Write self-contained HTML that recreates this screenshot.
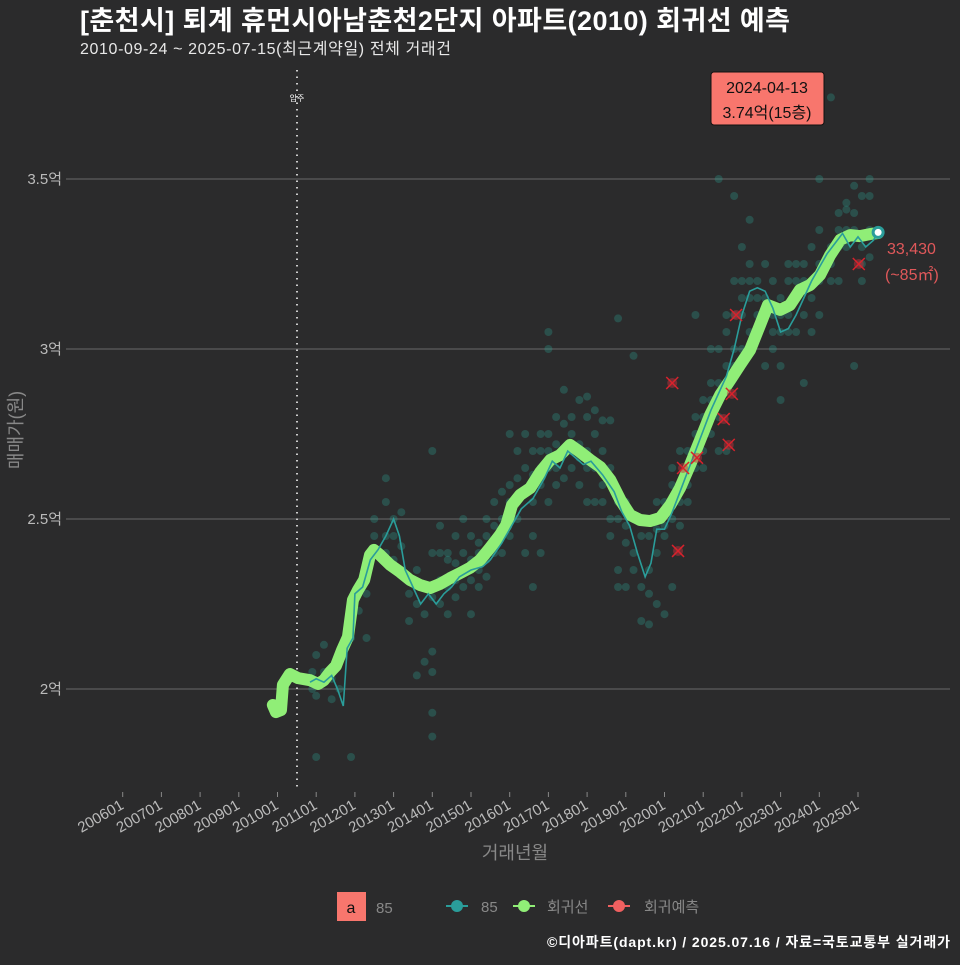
<!DOCTYPE html>
<html><head><meta charset="utf-8">
<style>
html,body{margin:0;padding:0;background:#2b2b2c;}
body{width:960px;height:960px;overflow:hidden;font-family:"Liberation Sans","Noto Sans CJK KR",sans-serif;}
svg text{font-family:"Liberation Sans","Noto Sans CJK KR",sans-serif;}
</style></head>
<body>
<svg id="chart" width="960" height="960" xmlns="http://www.w3.org/2000/svg">
<rect x="0" y="0" width="960" height="960" fill="#2b2b2c"/>
<text x="80" y="30" fill="#ffffff" font-size="27" font-weight="bold" textLength="710">[춘천시] 퇴계 휴먼시아남춘천2단지 아파트(2010) 회귀선 예측</text>
<text x="80" y="54" fill="#e8e8e8" font-size="16" textLength="371">2010-09-24 ~ 2025-07-15(최근계약일) 전체 거래건</text>
<g id="grid"></g>
<g id="xaxis"></g>
<g id="yaxis"></g>
<line x1="297" y1="70" x2="297" y2="790" stroke="#cccccc" stroke-width="2" stroke-dasharray="1.5,5"/>
<text x="297" y="101" fill="#ffffff" font-size="8" text-anchor="middle">입주</text>
<g id="points"></g>
<g id="lines"></g>
<g id="preds"></g>
<text transform="translate(22,430) rotate(-90)" fill="#888888" font-size="18" text-anchor="middle">매매가(원)</text>
<text x="515" y="859" fill="#888888" font-size="18" text-anchor="middle">거래년월</text>
<g>
<rect x="711" y="72" width="113" height="53" rx="3" fill="#f8766d" stroke="#111" stroke-width="1"/>
<text x="767" y="93" font-size="16" fill="#111" text-anchor="middle">2024-04-13</text>
<text x="767" y="118" font-size="16" fill="#111" text-anchor="middle">3.74억(15층)</text>
</g>
<g id="endlabel">
<text x="887" y="254" font-size="16" fill="#e0585a">33,430</text>
<text x="885" y="280" font-size="16" fill="#e0585a">(~85㎡)</text>
</g>
<g>
<rect x="337" y="892" width="29" height="29" fill="#f8766d"/>
<text x="351" y="913" font-size="16" fill="#111" text-anchor="middle">a</text>
<text x="376" y="913" font-size="15" fill="#888">85</text>
<g><line x1="446" y1="906" x2="468" y2="906" stroke="#2a9d9a" stroke-width="2"/><circle cx="457" cy="906" r="6" fill="#2a9d9a"/><text x="481" y="912" font-size="15" fill="#888">85</text></g>
<g><line x1="513" y1="906" x2="535" y2="906" stroke="#90ee77" stroke-width="2"/><circle cx="524" cy="906" r="6" fill="#90ee77"/><text x="547" y="912" font-size="15" fill="#888">회귀선</text></g>
<g><line x1="608" y1="906" x2="630" y2="906" stroke="#f06060" stroke-width="2"/><circle cx="619" cy="906" r="6" fill="#f06060"/><text x="644" y="912" font-size="15" fill="#888">회귀예측</text></g>
</g>
<text x="950" y="947" font-size="14" font-weight="bold" fill="#ffffff" text-anchor="end" textLength="403">©디아파트(dapt.kr) / 2025.07.16 / 자료=국토교통부 실거래가</text>
</svg>
<script>
const yTicks=[2,2.5,3,3.5];
const yTickLabels=["2억","2.5억","3억","3.5억"];
const xTickYears=[2006,2007,2008,2009,2010,2011,2012,2013,2014,2015,2016,2017,2018,2019,2020,2021,2022,2023,2024,2025];
const xTickLabels=["200601","200701","200801","200901","201001","201101","201201","201301","201401","201501","201601","201701","201801","201901","202001","202101","202201","202301","202401","202501"];
const regT=[2009.88,2009.96,2010.09,2010.14,2010.32,2010.53,2010.84,2011.05,2011.2,2011.36,2011.51,2011.67,2011.82,2011.95,2012.08,2012.24,2012.39,2012.49,2012.65,2012.91,2013.17,2013.42,2013.68,2013.94,2014.2,2014.46,2014.72,2014.97,2015.23,2015.49,2015.75,2015.91,2016.06,2016.27,2016.53,2016.79,2017.05,2017.3,2017.56,2017.82,2018.08,2018.34,2018.6,2018.86,2019.11,2019.37,2019.63,2019.89,2020.15,2020.4,2020.66,2020.92,2021.18,2021.44,2021.7,2021.95,2022.21,2022.47,2022.67,2022.99,2023.24,2023.5,2023.76,2024.02,2024.28,2024.54,2024.8,2025.05,2025.31,2025.52];
const regV=[1.953,1.932,1.938,2.012,2.044,2.032,2.026,2.015,2.026,2.05,2.068,2.115,2.153,2.262,2.291,2.321,2.394,2.409,2.394,2.365,2.344,2.321,2.306,2.297,2.309,2.326,2.341,2.356,2.379,2.415,2.453,2.482,2.541,2.571,2.591,2.638,2.674,2.688,2.718,2.697,2.674,2.653,2.615,2.556,2.512,2.497,2.494,2.503,2.541,2.591,2.659,2.732,2.806,2.865,2.909,2.953,2.997,3.071,3.129,3.115,3.129,3.174,3.188,3.218,3.276,3.321,3.335,3.332,3.338,3.341];
const avgT=[2010.84,2011.0,2011.2,2011.4,2011.55,2011.7,2011.8,2011.95,2012.0,2012.2,2012.4,2012.6,2012.8,2013.0,2013.15,2013.3,2013.5,2013.7,2013.9,2014.1,2014.3,2014.5,2014.7,2015.0,2015.3,2015.5,2015.8,2016.0,2016.3,2016.6,2016.9,2017.1,2017.3,2017.5,2017.7,2017.9,2018.1,2018.4,2018.7,2018.9,2019.1,2019.3,2019.5,2019.65,2019.8,2020.0,2020.2,2020.4,2020.6,2020.8,2021.0,2021.2,2021.4,2021.6,2021.8,2022.0,2022.2,2022.4,2022.6,2022.8,2023.0,2023.2,2023.4,2023.6,2023.8,2024.0,2024.2,2024.4,2024.6,2024.8,2025.0,2025.2,2025.4,2025.52];
const avgV=[2.02,2.03,2.02,2.04,2.0,1.95,2.12,2.15,2.28,2.3,2.38,2.41,2.45,2.5,2.45,2.35,2.3,2.25,2.28,2.25,2.28,2.3,2.33,2.35,2.36,2.38,2.43,2.47,2.53,2.56,2.62,2.67,2.65,2.7,2.68,2.66,2.67,2.63,2.58,2.52,2.48,2.4,2.33,2.37,2.47,2.47,2.52,2.58,2.64,2.7,2.76,2.82,2.87,2.92,3.0,3.1,3.17,3.18,3.17,3.12,3.05,3.06,3.1,3.15,3.2,3.24,3.28,3.31,3.34,3.3,3.33,3.3,3.32,3.343];
const tradeT=[2010.9,2011.0,2011.2,2011.4,2011.6,2011.9,2012.1,2012.3,2012.5,2012.8,2013.0,2013.2,2013.4,2013.6,2013.8,2014.0,2014.2,2014.4,2014.6,2014.8,2015.0,2015.2,2015.4,2015.6,2015.8,2016.0,2016.2,2016.4,2016.6,2016.8,2017.0,2017.2,2017.4,2017.6,2017.8,2018.0,2018.2,2018.4,2018.6,2018.8,2019.0,2019.2,2019.4,2019.6,2019.8,2020.0,2020.2,2020.4,2020.6,2020.8,2021.0,2021.2,2021.4,2021.6,2021.8,2022.0,2022.2,2022.4,2022.6,2022.8,2023.0,2023.2,2023.4,2023.6,2023.8,2024.0,2024.3,2024.5,2024.7,2024.9,2025.1,2025.3];
const tradeV=[[2.0,2.05],[1.80,2.10,1.98],[2.13,2.05],[2.03,1.97],[2.0],[1.80,2.15],[2.23,2.30],[2.28,2.35,2.15],[2.40,2.45,2.50],[2.45,2.62,2.40,2.55],[2.50,2.45,2.38],[2.52,2.42],[2.28,2.20,2.32],[2.25,2.35,2.04],[2.30,2.22,2.08],[2.27,2.40,1.93,1.86,2.11,2.05,2.70],[2.25,2.32,2.48,2.40],[2.38,2.22,2.30,2.40],[2.32,2.27,2.45,2.37],[2.35,2.30,2.40,2.50],[2.38,2.32,2.45,2.22],[2.40,2.35,2.30,2.43],[2.38,2.45,2.50,2.33],[2.43,2.48,2.40,2.55],[2.50,2.45,2.58,2.40],[2.55,2.50,2.60,2.45,2.75],[2.55,2.62,2.50,2.70],[2.58,2.65,2.75,2.40],[2.63,2.55,2.70,2.45,2.30],[2.70,2.65,2.75,2.60,2.40],[2.70,2.75,3.00,3.05,2.65,2.55],[2.72,2.80,2.65,2.60],[2.70,2.78,2.88,2.62],[2.75,2.70,2.80,2.65],[2.72,2.85,2.68,2.60],[2.80,2.70,2.65,2.55,2.86],[2.75,2.82,2.65,2.55],[2.70,2.60,2.79,2.55],[2.65,2.50,2.79,2.45],[2.55,2.50,3.09,2.35,2.30],[2.48,2.55,2.43,2.30],[2.40,2.50,2.35,2.98],[2.45,2.30,2.20,2.50],[2.45,2.35,2.28,2.19],[2.47,2.40,2.25,2.55],[2.48,2.55,2.22,2.45],[2.50,2.60,2.65,2.30],[2.58,2.55,2.70,2.48],[2.65,2.70,2.60,2.55],[2.75,2.80,2.65,2.70,3.10],[2.85,2.70,2.80,2.65],[2.90,2.85,2.75,3.00],[3.00,2.90,2.80,3.50,2.70],[3.05,2.95,3.10,2.88,2.70],[3.10,3.20,3.00,3.45,2.95],[3.15,3.20,3.10,3.30,3.00],[3.20,3.15,3.25,3.38,3.05],[3.15,3.20,3.10,3.05],[3.15,3.10,3.25,2.95],[3.10,3.05,3.20,3.00],[3.05,3.10,2.85,3.15,2.95],[3.10,3.20,3.05,3.25],[3.15,3.25,3.05,3.20],[3.20,3.10,3.25,2.90],[3.20,3.15,3.30,3.05],[3.25,3.35,3.20,3.10,3.50],[3.30,3.74,3.25,3.20],[3.35,3.40,3.30,3.20],[3.43,3.35,3.30,3.41],[3.40,3.35,2.95,3.48],[3.30,3.25,3.45,3.20],[3.35,3.50,3.27,3.45]];
const predT=[2020.2,2021.74,2021.53,2021.66,2020.48,2020.84,2020.35,2021.85,2025.02];
const predV=[2.90,2.868,2.794,2.718,2.65,2.68,2.406,3.10,3.25];

const NS="http://www.w3.org/2000/svg";
function xs(t){return 122.7+(t-2006)*38.7;}
function ys(v){return 689-(v-2)*340;}
function mk(tag,attrs,parent){const e=document.createElementNS(NS,tag);for(const k in attrs)e.setAttribute(k,attrs[k]);parent.appendChild(e);return e;}
const grid=document.getElementById('grid'),yaxis=document.getElementById('yaxis'),xaxis=document.getElementById('xaxis');
yTicks.forEach((v,i)=>{
  const l=mk('line',{x1:66,x2:950,y1:ys(v),y2:ys(v),stroke:'#5e5e5e','stroke-width':1.2},grid);
  
  
  const t=mk('text',{x:62,y:ys(v)+5,fill:'#bbbbbb','font-size':15,'text-anchor':'end'},yaxis);
  t.textContent=yTickLabels[i];
  
  
});
xTickYears.forEach((yr,i)=>{
  const x=xs(yr);
  const tk=mk('line',{x1:x,x2:x,y1:792,y2:797,stroke:'#888','stroke-width':1},xaxis);
  
  
  const t=mk('text',{x:x+2,y:808,fill:'#bbbbbb','font-size':15,'text-anchor':'end',transform:`rotate(-30 ${x+2} 808)`},xaxis);
  t.textContent=xTickLabels[i];
  
  
});
const pts=document.getElementById('points');
tradeT.forEach((t,i)=>{tradeV[i].forEach(v=>{
  const c=mk('circle',{cx:xs(t),cy:ys(v),r:4,fill:'#2a9d8f','fill-opacity':0.32},pts);
  
  
});});
const lines=document.getElementById('lines');
const reg=mk('polyline',{points:regT.map((t,i)=>xs(t)+','+ys(regV[i])).join(' '),fill:'none',stroke:'#90ee77','stroke-width':12,'stroke-linejoin':'round','stroke-linecap':'round'},lines);


const avg=mk('polyline',{points:avgT.map((t,i)=>xs(t)+','+ys(avgV[i])).join(' '),fill:'none',stroke:'#2a9d9a','stroke-width':1.6},lines);


const preds=document.getElementById('preds');
predT.forEach((t,i)=>{
  const x=xs(t),y=ys(predV[i]);
  const g=mk('g',{},preds);
  
  
  mk('circle',{cx:x,cy:y,r:5,fill:'#c0303a','fill-opacity':0.5},g);
  mk('line',{x1:x-6,y1:y-6,x2:x+6,y2:y+6,stroke:'#d8222c','stroke-width':1.5},g);
  mk('line',{x1:x-6,y1:y+6,x2:x+6,y2:y-6,stroke:'#d8222c','stroke-width':1.5},g);
});
const lt=avgT[avgT.length-1],lv=avgV[avgV.length-1];
const ep=mk('circle',{cx:xs(lt),cy:ys(lv),r:5,fill:'#ffffff',stroke:'#2a9d9a','stroke-width':3},lines);


</script>
</body></html>
